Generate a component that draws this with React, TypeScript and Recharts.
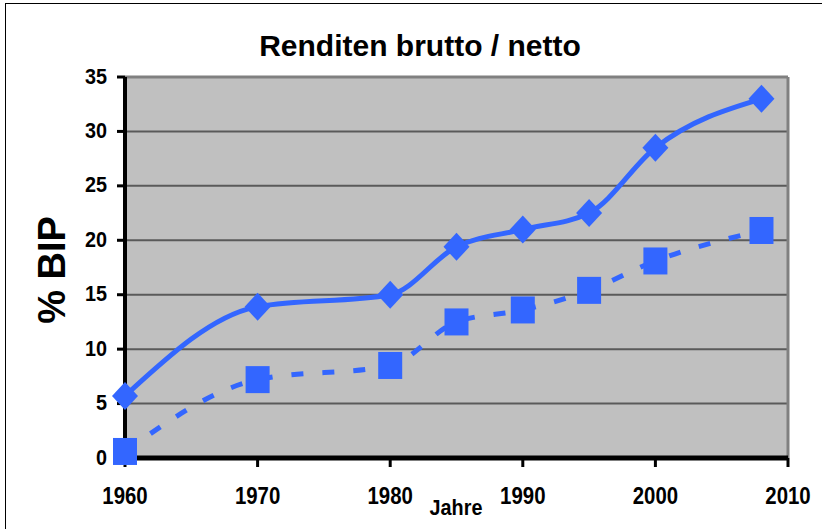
import { ComposedChart, Line, XAxis, YAxis, CartesianGrid, ReferenceLine } from 'recharts';

const years = [1960, 1970, 1980, 1985, 1990, 1995, 2000, 2008];
const brutto = [5.7, 13.9, 15.0, 19.4, 21.0, 22.5, 28.5, 33.0];
const netto = [0.6, 7.2, 8.5, 12.5, 13.6, 15.4, 18.1, 20.9];
const xTicks = [1960, 1970, 1980, 1990, 2000, 2010];
const yTicks = [0, 5, 10, 15, 20, 25, 30, 35];

const data = years.map((year, i) => ({ year, brutto: brutto[i], netto: netto[i] }));

const BLUE = '#3366FF';
const FONT = '"Liberation Sans", Arial, sans-serif';

const Diamond = (props: any) => {
  const { cx, cy } = props;
  if (cx == null || cy == null) return null;
  return (
    <polygon
      points={`${cx},${cy - 14} ${cx + 13},${cy} ${cx},${cy + 14} ${cx - 13},${cy}`}
      fill={BLUE}
    />
  );
};

const Square = (props: any) => {
  const { cx, cy } = props;
  if (cx == null || cy == null) return null;
  return <rect x={cx - 12} y={cy - 13.5} width={24} height={27} fill={BLUE} />;
};

// excel squeezed the text a bit, so draw it narrower than the font
const XTick = (props: any) => {
  const { x, y, payload } = props;
  return (
    <g transform={`translate(${x},${y})`}>
      <text transform="scale(0.85,1)" textAnchor="middle" dy="0.71em" fill="#000" fontFamily={FONT} fontWeight="bold" fontSize={24}>
        {payload.value}
      </text>
    </g>
  );
};

const YTick = (props: any) => {
  const { x, y, payload } = props;
  return (
    <g transform={`translate(${x},${y})`}>
      <text transform="scale(0.9,1)" textAnchor="end" dy="0.3em" fill="#000" fontFamily={FONT} fontWeight="bold" fontSize={22}>
        {payload.value}
      </text>
    </g>
  );
};

export default function App() {
  return (
    <div style={{ position: 'absolute', left: 0, top: 0, width: 822, height: 529, background: '#fff', overflow: 'hidden' }}>
      <div
        style={{
          position: 'absolute',
          left: 5,
          top: 3,
          width: 830,
          height: 540,
          border: '1px solid #000',
          borderRightWidth: 0,
          boxSizing: 'border-box',
        }}
      />
      <div
        style={{
          position: 'absolute',
          top: 29,
          left: 0,
          width: 840,
          textAlign: 'center',
          fontFamily: FONT,
          fontWeight: 'bold',
          fontSize: 30,
          color: '#000',
        }}
      >
        Renditen brutto / netto
      </div>
      <div
        style={{
          position: 'absolute',
          left: 52 - 100,
          top: 270 - 25,
          width: 200,
          height: 50,
          lineHeight: '50px',
          textAlign: 'center',
          transform: 'rotate(-90deg)',
          fontFamily: FONT,
          fontWeight: 'bold',
          fontSize: 38,
          color: '#000',
        }}
      >
        % BIP
      </div>
      <div style={{ position: 'absolute', left: 0, top: 0 }}>
        <ComposedChart width={822} height={529} data={data} margin={{ top: 77, right: 34, bottom: 0, left: 0 }}>
          <CartesianGrid vertical={false} fill="#C0C0C0" stroke="#5a5a5a" strokeWidth={2} />
          <ReferenceLine x={2010} stroke="#808080" strokeWidth={3} />
          <ReferenceLine y={35} stroke="#808080" strokeWidth={3} />
          <XAxis
            dataKey="year"
            type="number"
            domain={[1960, 2010]}
            ticks={xTicks}
            height={71}
            axisLine={{ stroke: '#000', strokeWidth: 5 }}
            tickLine={{ stroke: '#000', strokeWidth: 3 }}
            tickSize={9}
            tickMargin={20}
            tick={<XTick />}
          />
          <YAxis
            type="number"
            domain={[0, 35]}
            ticks={yTicks}
            width={125}
            interval={0}
            axisLine={{ stroke: '#000', strokeWidth: 4 }}
            tickLine={{ stroke: '#000', strokeWidth: 3 }}
            tickSize={8}
            tickMargin={10}
            tick={<YTick />}
          />
          <Line
            type="monotone"
            dataKey="netto"
            stroke={BLUE}
            strokeWidth={5}
            strokeDasharray="12 19"
            dot={<Square />}
            isAnimationActive={false}
          />
          <Line
            type="monotone"
            dataKey="brutto"
            stroke={BLUE}
            strokeWidth={5}
            dot={<Diamond />}
            isAnimationActive={false}
          />
        </ComposedChart>
      </div>
      <svg style={{ position: 'absolute', left: 0, top: 0 }} width={822} height={529}>
        <text x={456 / 0.9} y={515} transform="scale(0.9,1)" textAnchor="middle" fill="#000" fontFamily={FONT} fontWeight="bold" fontSize={22}>
          Jahre
        </text>
      </svg>
    </div>
  );
}
